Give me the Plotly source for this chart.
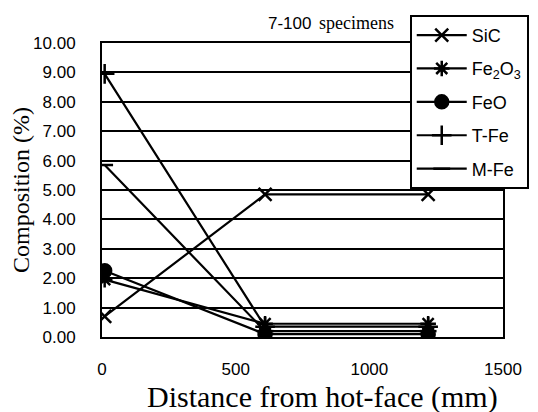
import plotly.graph_objects as go

distance = [10, 610, 1220]
sic = [0.70, 4.85, 4.85]
fe2o3 = [1.95, 0.45, 0.45]
feo = [2.25, 0.10, 0.10]
tfe = [8.95, 0.35, 0.35]
mfe = [5.85, 0.20, 0.20]

names = ["SiC", "Fe<sub>2</sub>O<sub>3</sub>", "FeO", "T-Fe", "M-Fe"]
series = [sic, fe2o3, feo, tfe, mfe]
symbols = ["x-thin-open", "asterisk-open", "circle", "cross-thin-open", "line-ew-open"]
sizes = [13, 13, 13, 14, 12]

y_ticks = [i for i in range(0, 11)]
y_labels = [f"{v:.2f}" for v in y_ticks]
x_ticks = [0, 500, 1000, 1500]

SANS = "Liberation Sans Narrow, Arial Narrow, Liberation Sans, sans-serif"
SERIF = "Liberation Serif, Times New Roman, serif"

fig = go.Figure()
for i, (name, ys, sym, sz) in enumerate(zip(names, series, symbols, sizes)):
    fig.add_trace(go.Scatter(
        x=distance, y=ys, name=name, mode="lines+markers", legendgroup=f"g{i}",
        line=dict(color="black", width=2.2),
        marker=dict(symbol=sym, size=sz, color="black",
                    line=dict(color="black", width=2.5)),
    ))

fig.update_layout(
    width=530, height=404,
    margin=dict(l=94, r=35, t=35, b=75, autoexpand=False),
    paper_bgcolor="white", plot_bgcolor="white",
    showlegend=True,
    legend=dict(
        xref="container", yref="container",
        x=0.758, y=0.983, xanchor="left", yanchor="top",
        bgcolor="white", bordercolor="black", borderwidth=2,
        font=dict(family=SANS, size=18, color="black"),
        itemwidth=50, tracegroupgap=7,
    ),
    xaxis=dict(
        range=[0, 1500], tickvals=x_ticks, showgrid=False, automargin=False,
        showline=True, linecolor="black", linewidth=2, mirror=True,
        ticks="outside", ticklen=16, tickcolor="white",
        tickfont=dict(family=SANS, size=17, color="black"),
        zeroline=False,
    ),
    yaxis=dict(
        range=[0, 10], tickvals=y_ticks, ticktext=y_labels, automargin=False,
        showgrid=True, gridcolor="black", gridwidth=2,
        showline=True, linecolor="black", linewidth=2, mirror=True,
        ticks="outside", ticklen=21, tickcolor="white",
        tickfont=dict(family=SANS, size=17, color="black"),
        title=dict(text="Composition (%)",
                   font=dict(family=SERIF, size=24, color="black"),
                   standoff=4),
        zeroline=False,
    ),
    annotations=[
        dict(text="Distance from hot-face (mm)", x=0.55, y=-0.204,
             xref="paper", yref="paper", xanchor="center", yanchor="middle",
             showarrow=False, font=dict(family=SERIF, size=30, color="black")),
        dict(text="7-100", x=0.526, y=1.068, xref="paper", yref="paper",
             xanchor="right", yanchor="middle", showarrow=False,
             font=dict(family=SANS, size=17, color="black")),
        dict(text="specimens", x=0.536, y=1.068, xref="paper", yref="paper",
             xanchor="left", yanchor="middle", showarrow=False,
             font=dict(family=SERIF, size=18, color="black")),
    ],
)

fig.write_html("out.html")
